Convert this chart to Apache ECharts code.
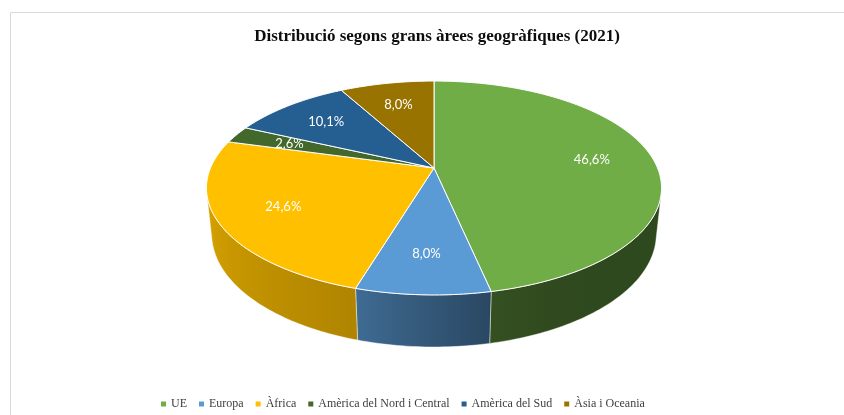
<!DOCTYPE html>
<html>
<head>
<meta charset="utf-8">
<script src="https://cdn.jsdelivr.net/npm/echarts@6/dist/echarts.min.js"></script>
<style>
  html, body { margin: 0; padding: 0; background: #fff; }
  #chart { width: 844px; height: 415px; }
</style>
</head>
<body>
<div id="chart"></div>
<script>
// Distribució segons grans àrees geogràfiques (2021)
const categories = ['UE', 'Europa', 'Àfrica', 'Amèrica del Nord i Central', 'Amèrica del Sud', 'Àsia i Oceania'];
const values = [46.6, 8.0, 24.6, 2.6, 10.1, 8.0];
const colors = ['#70AD47', '#5B9BD5', '#FFC000', '#43682B', '#255E91', '#997300'];

const total = values.reduce((a, b) => a + b, 0);
const starts = [];
let acc = 0;
values.forEach(v => { starts.push(acc / total * 360); acc += v; });

// perspective projection of a flat disc (radius 1, thickness T)
const CX = 434, CY = 168, K = 1060.6, DIST = 4.745, TILT = 27.5 * Math.PI / 180, T = 0.234;
const SA = Math.sin(TILT), CA = Math.cos(TILT);
function proj(r, deg, z) {
    const a = deg * Math.PI / 180;
    const u = r * Math.sin(a), v = r * Math.cos(a);
    const depth = DIST + v * CA - z * SA;
    return [CX + K * u / depth, CY - K * (v * SA + z * CA) / depth];
}
// wall faces the camera only for this arc
const wallLimit = Math.acos(-1 / (DIST * CA)) * 180 / Math.PI;
const wallFrom = wallLimit, wallTo = 360 - wallLimit;

function arc(a0, a1, z) {
    const n = Math.max(2, Math.ceil(Math.abs(a1 - a0) / 1));
    const pts = [];
    for (let j = 0; j <= n; j++) pts.push(proj(1, a0 + (a1 - a0) * j / n, z));
    return pts;
}
// wall lightness by angle (light comes from the left)
const shadeAng = [150, 168, 197, 256];
const shadeVal = [0.42, 0.46, 0.69, 0.84];
function shadeAt(deg) {
    if (deg <= shadeAng[0]) return shadeVal[0];
    for (let j = 1; j < shadeAng.length; j++) {
        if (deg <= shadeAng[j]) {
            const f = (deg - shadeAng[j - 1]) / (shadeAng[j] - shadeAng[j - 1]);
            return shadeVal[j - 1] + f * (shadeVal[j] - shadeVal[j - 1]);
        }
    }
    return shadeVal[shadeVal.length - 1];
}
function darken(hex, f) {
    const n = parseInt(hex.slice(1), 16);
    const r = Math.round(((n >> 16) & 255) * f), g = Math.round(((n >> 8) & 255) * f), b = Math.round((n & 255) * f);
    return 'rgb(' + r + ',' + g + ',' + b + ')';
}

function makeRender(i) {
    return function (params, api) {
        const a0 = starts[i];
        const a1 = a0 + values[i] / total * 360;
        const children = [];
        // side wall
        const w0 = Math.max(a0, wallFrom), w1 = Math.min(a1, wallTo);
        if (w1 > w0) {
            const top = arc(w0, w1, 0);
            const bot = arc(w0, w1, -T).reverse();
            const pts = top.concat(bot);
            const xs = pts.map(p => p[0]);
            const xmin = Math.min(...xs), xmax = Math.max(...xs);
            const stops = [];
            for (let j = 0; j <= 8; j++) {
                const d = w1 - (w1 - w0) * j / 8;
                const x = proj(1, d, -T / 2)[0];
                stops.push({ offset: Math.min(1, Math.max(0, (x - xmin) / (xmax - xmin))), color: darken(colors[i], shadeAt(d)) });
            }
            stops.sort((p, q) => p.offset - q.offset);
            children.push({
                type: 'polygon',
                shape: { points: pts },
                style: {
                    fill: { type: 'linear', x: 0, y: 0, x2: 1, y2: 0, colorStops: stops },
                    stroke: 'rgba(255,255,255,0.55)', lineWidth: 0.8
                }
            });
        }
        // top face
        const topPts = [proj(0, 0, 0)].concat(arc(a0, a1, 0));
        children.push({
            type: 'polygon',
            shape: { points: topPts },
            style: { fill: colors[i], stroke: '#ffffff', lineWidth: 1 }
        });
        // value label
        const mid = (a0 + a1) / 2;
        const lp = proj(0.72, mid, 0);
        children.push({
            type: 'text',
            x: lp[0], y: lp[1],
            style: {
                text: values[i].toFixed(1).replace('.', ',') + '%',
                fill: '#ffffff',
                font: '13px Lato',
                align: 'center',
                verticalAlign: 'middle'
            }
        });
        return { type: 'group', children: children };
    };
}

const chart = echarts.init(document.getElementById('chart'), null, { renderer: 'canvas' });
const option = {
    animation: false,
    backgroundColor: '#ffffff',
    title: {
        text: 'Distribució segons grans àrees geogràfiques (2021)',
        left: 432,
        top: 23,
        textAlign: 'center',
        textStyle: {
            fontFamily: 'Liberation Serif',
            fontWeight: 'bold',
            fontSize: 17,
            color: '#0d0d0d'
        }
    },
    legend: {
        data: categories,
        icon: 'rect',
        itemWidth: 5,
        itemHeight: 5,
        itemGap: 12,
        left: 156,
        top: 393,
        textStyle: {
            fontFamily: 'Liberation Serif',
            fontSize: 12,
            color: '#404040'
        }
    },
    graphic: [{
        type: 'rect',
        shape: { x: 10.5, y: 12.5, width: 850, height: 420 },
        style: { fill: 'none', stroke: '#d9d9d9', lineWidth: 1 },
        silent: true,
        z: -10
    }],
    series: categories.map((name, i) => ({
        type: 'custom',
        name: name,
        coordinateSystem: 'none',
        silent: true,
        itemStyle: { color: colors[i] },
        data: [values[i]],
        renderItem: makeRender(i)
    }))
};
chart.setOption(option);
</script>
</body>
</html>
